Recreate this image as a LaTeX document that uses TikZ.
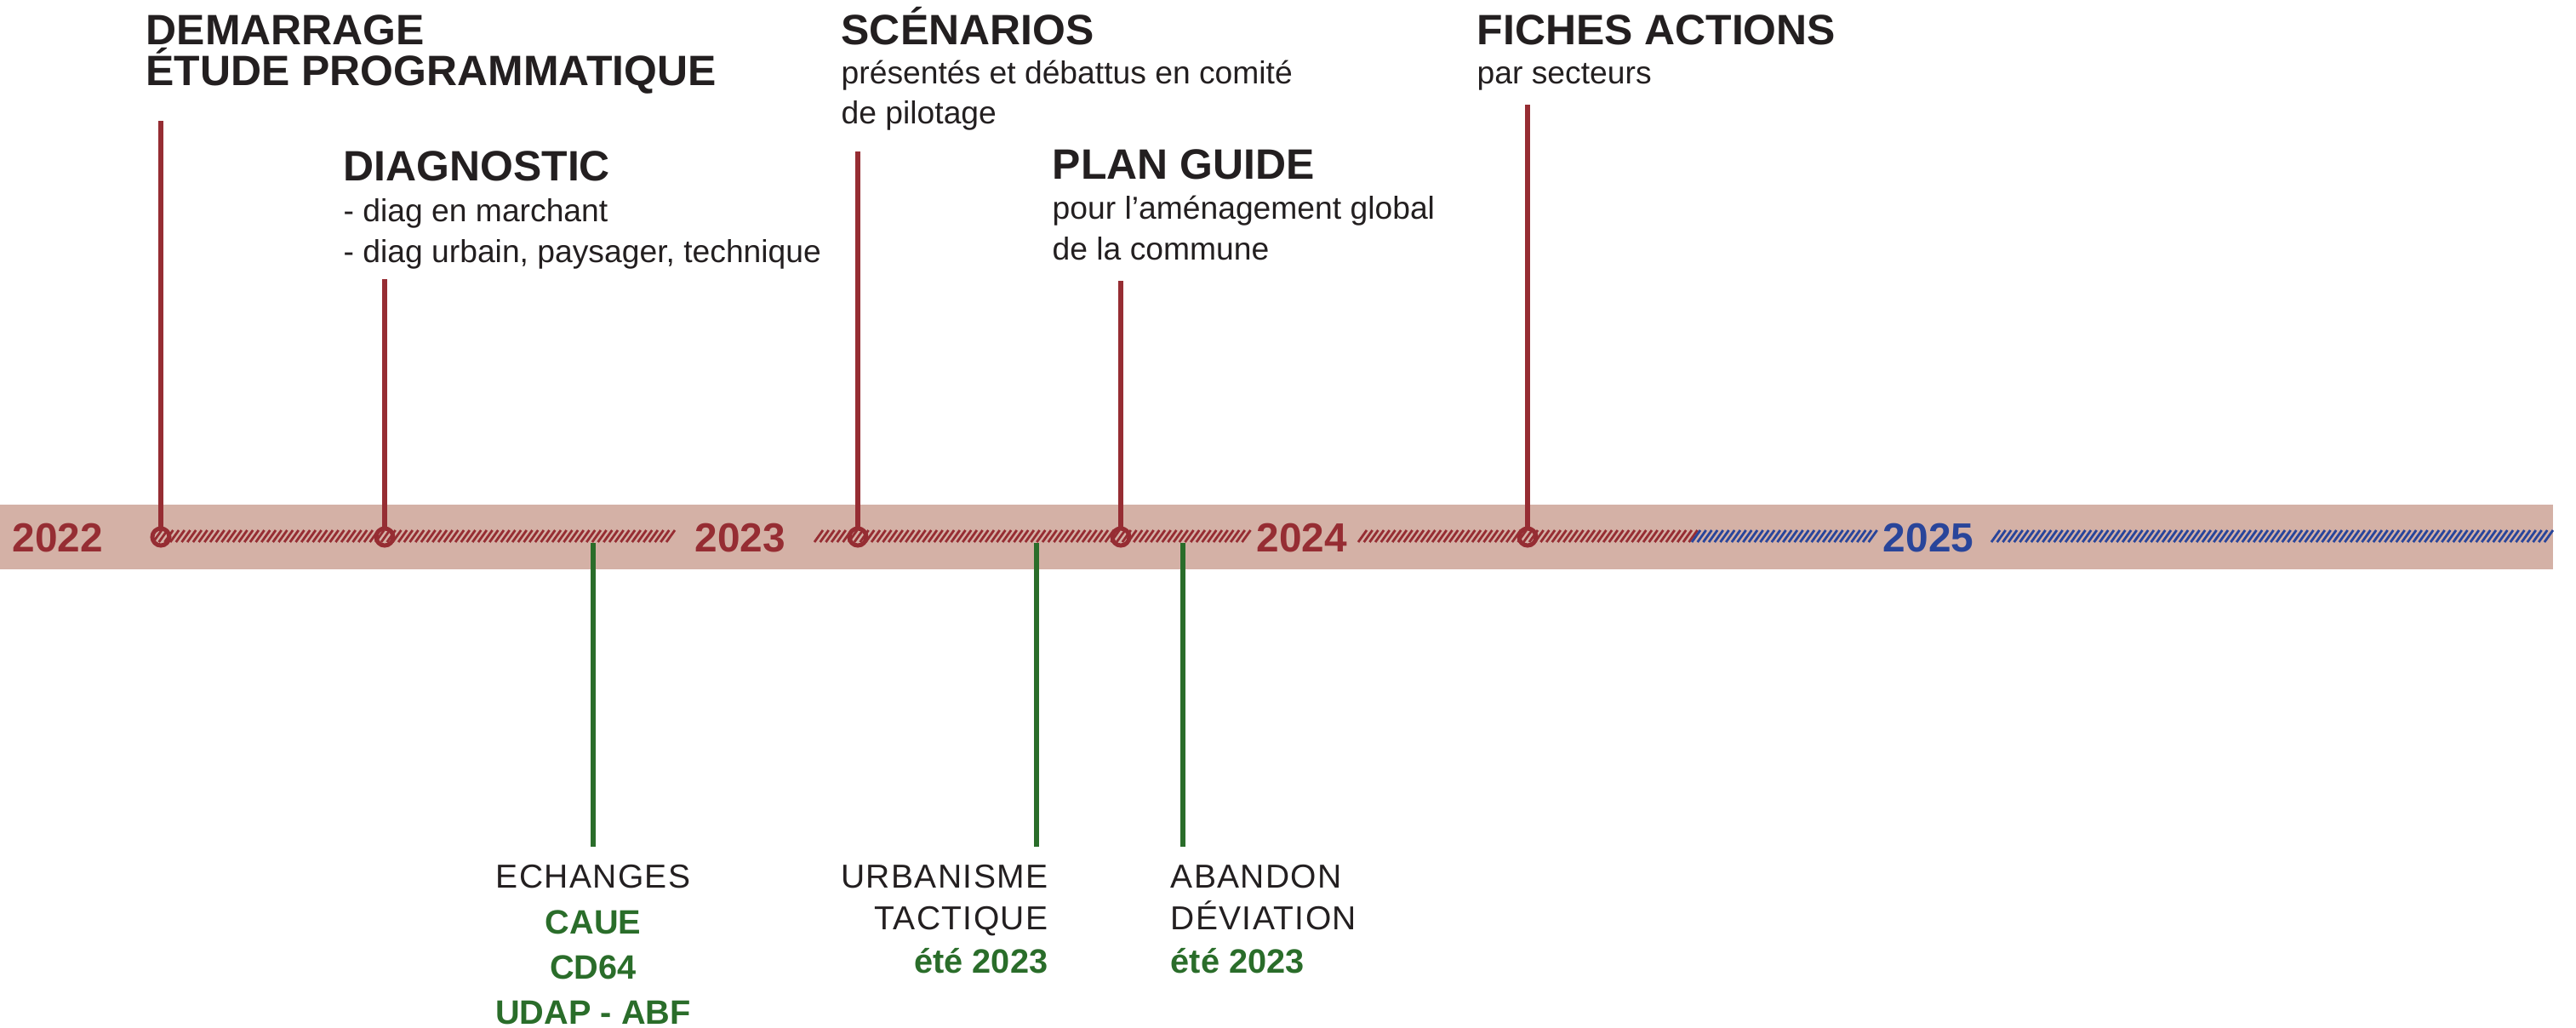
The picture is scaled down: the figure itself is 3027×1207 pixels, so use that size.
\documentclass[tikz,border=0pt]{standalone}
\usepackage{fontspec}
\setmainfont{Liberation Sans}
\newfontfamily\spacedfont[LetterSpace=3.5]{Liberation Sans}
\definecolor{band}{HTML}{D4B1A6}
\definecolor{dred}{HTML}{962D33}
\definecolor{dblue}{HTML}{29459A}
\definecolor{dgreen}{HTML}{2A6D2A}
\definecolor{ink}{HTML}{231F20}

\begin{document}
\begin{tikzpicture}[x=0.1mm,y=-0.1mm,
    stagetitle/.style={anchor=base west,inner sep=0pt,text=ink,font=\bfseries\fontsize{14.2}{17}\selectfont},
    stagenote/.style={anchor=base west,inner sep=0pt,text=ink,font=\fontsize{10.6}{13}\selectfont},
    yearlbl/.style={anchor=base,inner sep=0pt,font=\bfseries\fontsize{13.6}{16}\selectfont},
    partner/.style={inner sep=0pt,text=ink,font=\spacedfont\fontsize{11.1}{13}\selectfont},
    partnerhl/.style={inner sep=0pt,text=dgreen,font=\bfseries\fontsize{11.3}{13}\selectfont},
    milestone/.style={circle,draw=dred,line width=0.5mm,minimum size=2mm,inner sep=0pt},
    redline/.style={draw=dred,line width=0.6mm},
    greenline/.style={draw=dgreen,line width=0.55mm}]
      \useasboundingbox (0,0) rectangle (3027,1207);

      % the time band
      \fill[band] (0,593) rectangle (3000,669);
      \foreach \a/\b/\c in {180/788/dred,957/1465/dred,1596/1985/dred,1988/2197/dblue,2340/2990/dblue}{
        \pgfmathtruncatemacro\n{(\b-\a)/6.7}
        \foreach \i in {0,...,\n}
          \draw[\c,line width=0.28mm] ({\a+6.7*\i},637) -- ++(10,-14);
      }

      \node[yearlbl,text=dred] (y22) at (68,648) {2022};
      \node[yearlbl,text=dred] (y23) at (870,648) {2023};
      \node[yearlbl,text=dred] (y24) at (1530,648) {2024};
      \node[yearlbl,text=dblue] (y25) at (2266,648) {2025};

      % milestones above
      \node[milestone] (dem) at (189,631) {};
      \node[milestone] (diag) at (452,631) {};
      \node[milestone] (scen) at (1008,631) {};
      \node[milestone] (plan) at (1317,631) {};
      \node[milestone] (fich) at (1795,631) {};

      \coordinate (demtop) at (189,142);
      \coordinate (diagtop) at (452,328);
      \coordinate (scentop) at (1008,178);
      \coordinate (plantop) at (1317,330);
      \coordinate (fichtop) at (1795,123);

      \node[stagetitle] (demt1) at (171,52) {DEMARRAGE};
      \node[stagetitle] (demt2) at (171,100) {ÉTUDE PROGRAMMATIQUE};

      \node[stagetitle] (diagt) at (403,212) {DIAGNOSTIC};
      \node[stagenote] (diagn1) at (403,260) {- diag en marchant};
      \node[stagenote] (diagn2) at (403,308) {- diag urbain, paysager, technique};

      \node[stagetitle] (scent) at (988,52) {SCÉNARIOS};
      \node[stagenote] (scenn1) at (988,98) {présentés et débattus en comité};
      \node[stagenote] (scenn2) at (988,145) {de pilotage};

      \node[stagetitle] (plant) at (1236,210) {PLAN GUIDE};
      \node[stagenote] (plann1) at (1236,257) {pour l’aménagement global};
      \node[stagenote] (plann2) at (1236,305) {de la commune};

      \node[stagetitle] (ficht) at (1735,52) {FICHES ACTIONS};
      \node[stagenote] (fichn) at (1735,98) {par secteurs};

      \path[redline]
      (demtop) edge (dem)
      (diagtop) edge (diag)
      (scentop) edge (scen)
      (plantop) edge (plan)
      (fichtop) edge (fich)
      ;

      % events below
      \coordinate (echtop) at (697,638);
      \coordinate (echbot) at (697,995);
      \coordinate (urbtop) at (1218,638);
      \coordinate (urbbot) at (1218,995);
      \coordinate (abtop) at (1390,638);
      \coordinate (abbot) at (1390,995);

      \node[partner,anchor=base] (ech) at (697,1043) {ECHANGES};
      \node[partnerhl,anchor=base] (caue) at (697,1097) {CAUE};
      \node[partnerhl,anchor=base] (cd) at (697,1150) {CD64};
      \node[partnerhl,anchor=base] (udap) at (697,1203) {UDAP - ABF};

      \node[partner,anchor=base east] (urb1) at (1232,1043) {URBANISME};
      \node[partner,anchor=base east] (urb2) at (1232,1092) {TACTIQUE};
      \node[partnerhl,anchor=base east] (urb3) at (1232,1143) {été 2023};

      \node[partner,anchor=base west] (ab1) at (1375,1043) {ABANDON};
      \node[partner,anchor=base west] (ab2) at (1375,1092) {DÉVIATION};
      \node[partnerhl,anchor=base west] (ab3) at (1375,1143) {été 2023};

      \path[greenline]
      (echtop) edge (echbot)
      (urbtop) edge (urbbot)
      (abtop) edge (abbot)
      ;
\end{tikzpicture}
\end{document}
